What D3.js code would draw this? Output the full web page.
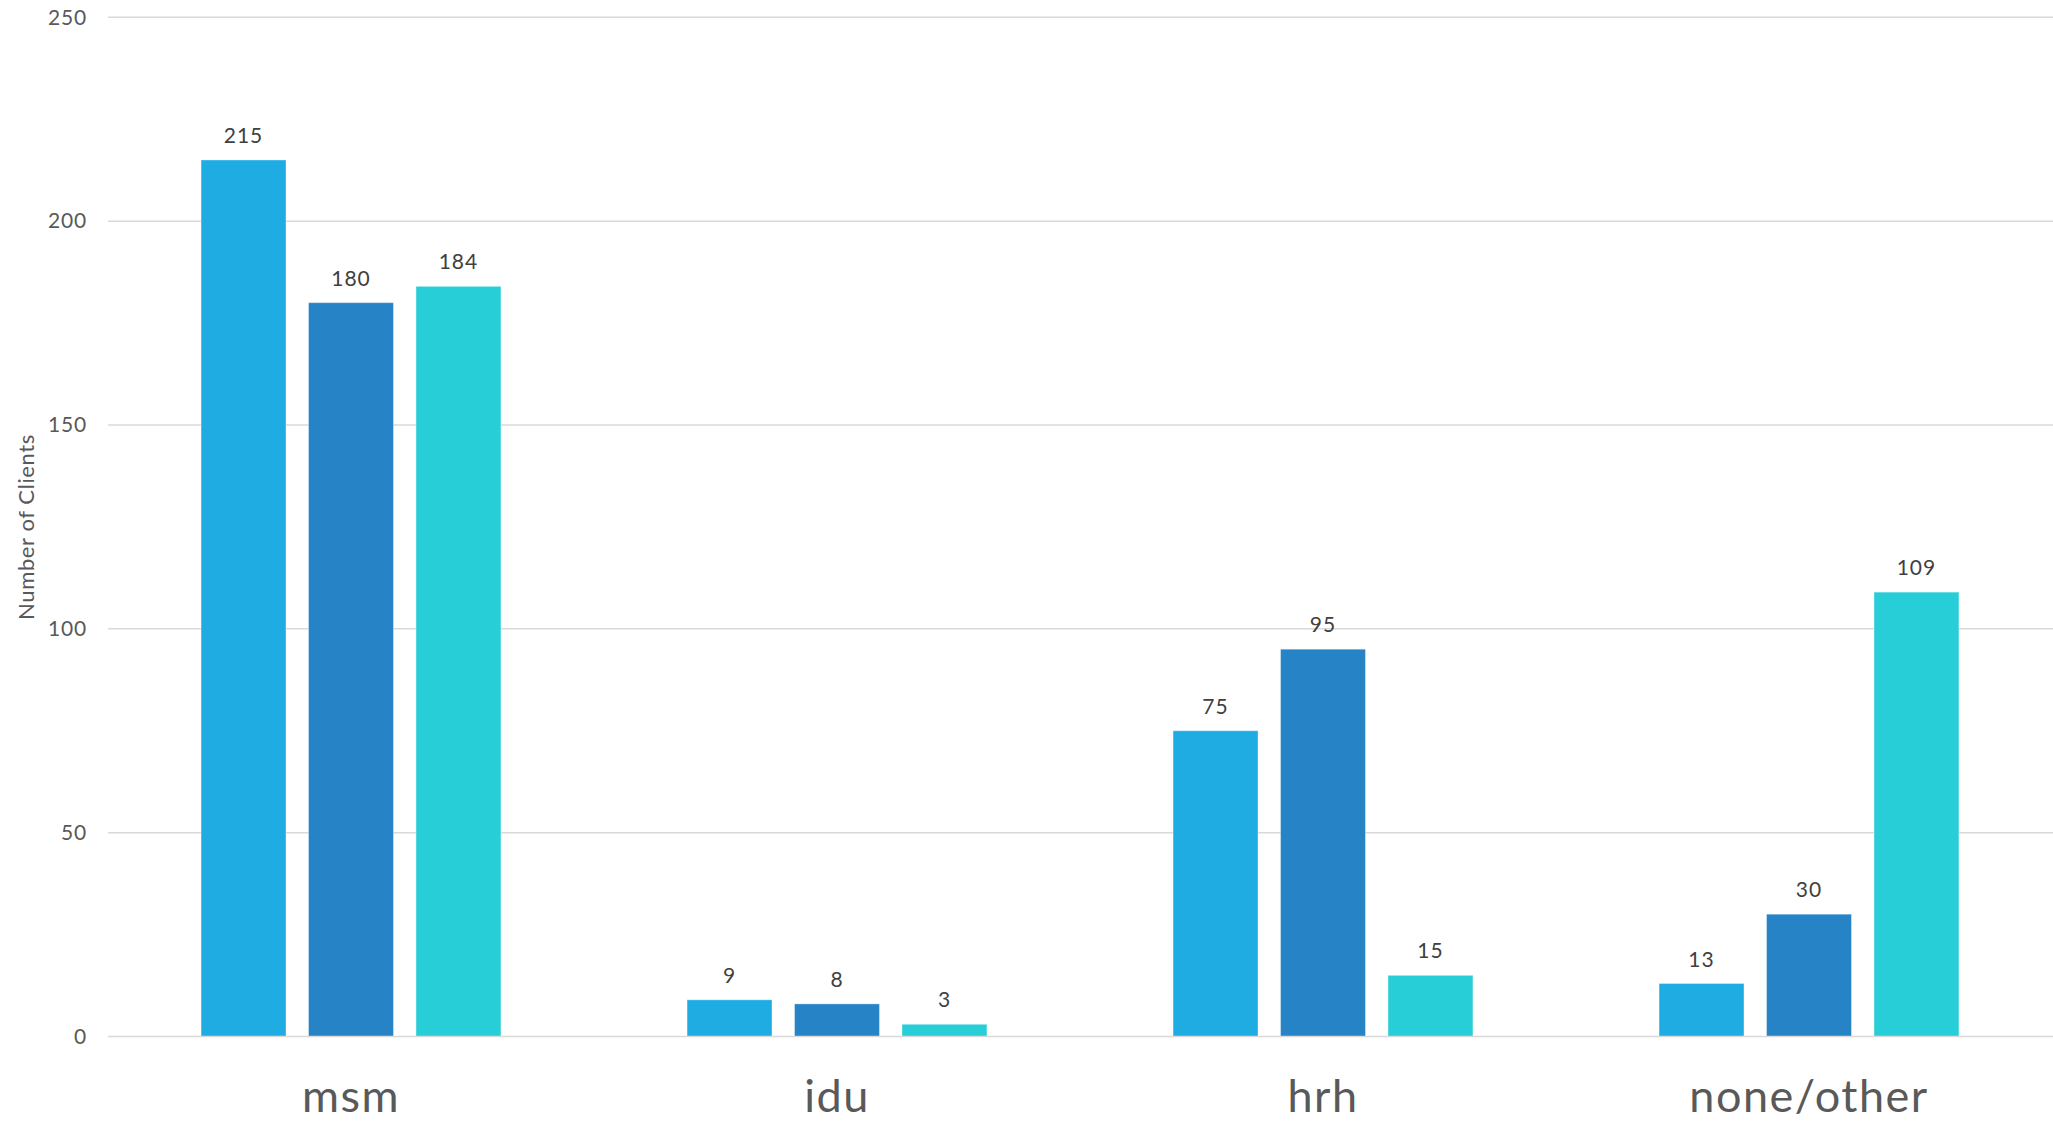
<!DOCTYPE html>
<html>
<head>
<meta charset="utf-8">
<script src="https://cdn.jsdelivr.net/npm/d3@7"></script>
<style>
  html, body { margin: 0; padding: 0; background: #ffffff; }
  svg { display: block; }
</style>
</head>
<body>
<svg id="chart" width="2053" height="1125"></svg>
<script>
// Client counts by risk category, three series per category
const categories = ["msm", "idu", "hrh", "none/other"];
const seriesNames = ["Series 1", "Series 2", "Series 3"];
const series1 = [215, 9, 75, 13];
const series2 = [180, 8, 95, 30];
const series3 = [184, 3, 15, 109];
const yTicks = [0, 50, 100, 150, 200, 250];
const yTitle = "Number of Clients";

const seriesValues = [series1, series2, series3];
const colors = ["#1EACE3", "#2683C6", "#27CED7"];

const W = 2053, H = 1125;
const left = 108, right = 2052;
const yBottom = 1036.5, yTop = 17.3;
const font = "Lato, 'Open Sans', sans-serif";

const svg = d3.select("#chart");

const x0 = d3.scaleBand()
  .domain(categories)
  .range([left, right])
  .paddingInner(0.383)
  .paddingOuter(0.1915);

const x1 = d3.scaleBand()
  .domain(seriesNames)
  .range([0, x0.bandwidth()])
  .paddingInner(0.21)
  .paddingOuter(0);

const y = d3.scaleLinear()
  .domain([0, 250])
  .range([yBottom, yTop]);

// Horizontal gridlines
svg.append("g")
  .selectAll("line")
  .data(yTicks.filter(t => t !== 0))
  .join("line")
  .attr("x1", left)
  .attr("x2", W)
  .attr("y1", d => y(d))
  .attr("y2", d => y(d))
  .attr("stroke", "#d9d9d9")
  .attr("stroke-width", 1.5);

// Y tick labels
svg.append("g")
  .selectAll("text")
  .data(yTicks)
  .join("text")
  .attr("x", 87)
  .attr("y", d => y(d))
  .attr("dy", "0.35em")
  .attr("text-anchor", "end")
  .attr("font-family", font)
  .attr("font-size", 21)
  .attr("letter-spacing", 0.8)
  .attr("fill", "#595959")
  .text(d => d);

// Y axis title
svg.append("text")
  .attr("transform", "translate(26, 527) rotate(-90)")
  .attr("text-anchor", "middle")
  .attr("dy", "0.35em")
  .attr("font-family", font)
  .attr("font-size", 22)
  .attr("letter-spacing", 0.6)
  .attr("fill", "#595959")
  .text(yTitle);

// Bars
const rows = categories.map((c, i) => ({
  category: c,
  values: seriesNames.map((s, j) => ({ series: s, idx: j, value: seriesValues[j][i] }))
}));

const groups = svg.append("g")
  .selectAll("g")
  .data(rows)
  .join("g")
  .attr("transform", d => `translate(${x0(d.category)},0)`);

groups.selectAll("rect")
  .data(d => d.values)
  .join("rect")
  .attr("x", d => x1(d.series))
  .attr("y", d => y(d.value))
  .attr("width", x1.bandwidth())
  .attr("height", d => y(0) - y(d.value))
  .attr("fill", d => colors[d.idx])
  .attr("stroke", "rgba(255,255,255,0.35)")
  .attr("stroke-width", 1);

// Value labels
groups.selectAll("text")
  .data(d => d.values)
  .join("text")
  .attr("x", d => x1(d.series) + x1.bandwidth() / 2)
  .attr("y", d => y(d.value) - 17)
  .attr("text-anchor", "middle")
  .attr("font-family", font)
  .attr("font-size", 21)
  .attr("letter-spacing", 1)
  .attr("fill", "#404040")
  .text(d => d.value);

// Baseline
svg.append("line")
  .attr("x1", left)
  .attr("x2", W)
  .attr("y1", y(0))
  .attr("y2", y(0))
  .attr("stroke", "#d9d9d9")
  .attr("stroke-width", 1.5);

// Category labels
svg.append("g")
  .selectAll("text")
  .data(categories)
  .join("text")
  .attr("x", d => x0(d) + x0.bandwidth() / 2)
  .attr("y", 1112)
  .attr("text-anchor", "middle")
  .attr("font-family", font)
  .attr("font-size", 45)
  .attr("letter-spacing", 1.5)
  .attr("fill", "#595959")
  .text(d => d);
</script>
</body>
</html>
